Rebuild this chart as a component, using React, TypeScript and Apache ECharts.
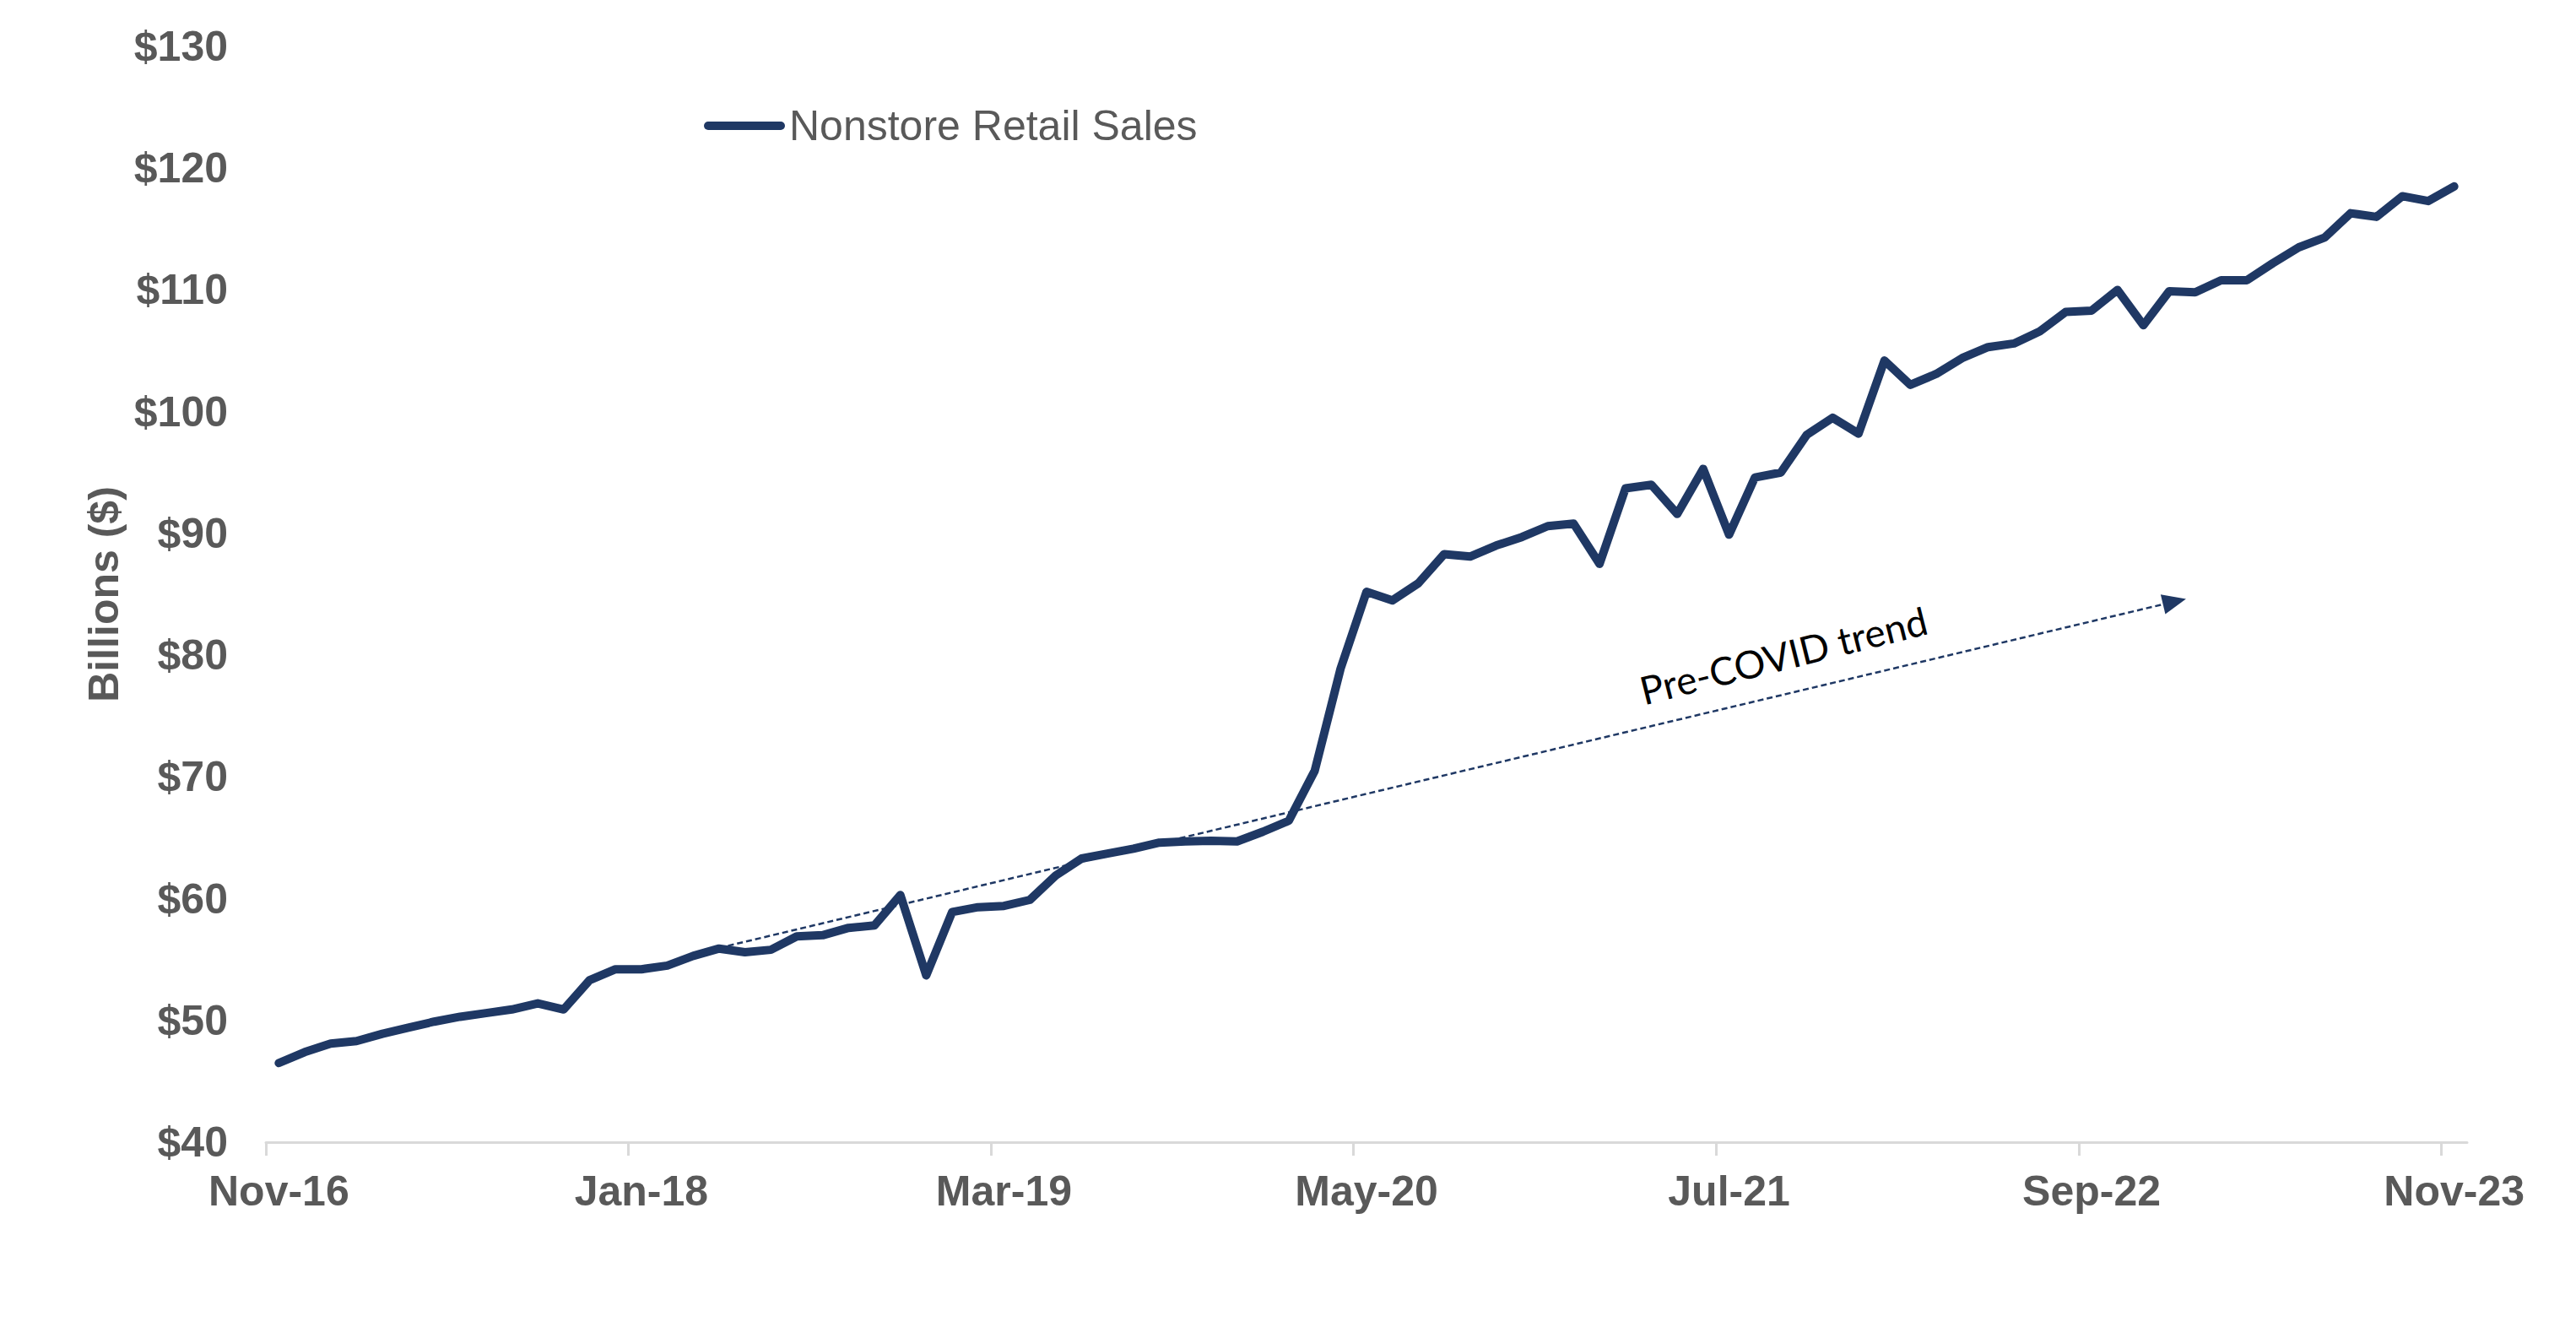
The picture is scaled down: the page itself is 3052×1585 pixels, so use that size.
import React, { useEffect, useRef } from "react";
import * as echarts from "echarts";

// Monthly categories, Nov-16 .. Nov-23
const MONTHS: string[] = [
  "Nov-16", "Dec-16",
  "Jan-17", "Feb-17", "Mar-17", "Apr-17", "May-17", "Jun-17", "Jul-17", "Aug-17", "Sep-17", "Oct-17", "Nov-17", "Dec-17",
  "Jan-18", "Feb-18", "Mar-18", "Apr-18", "May-18", "Jun-18", "Jul-18", "Aug-18", "Sep-18", "Oct-18", "Nov-18", "Dec-18",
  "Jan-19", "Feb-19", "Mar-19", "Apr-19", "May-19", "Jun-19", "Jul-19", "Aug-19", "Sep-19", "Oct-19", "Nov-19", "Dec-19",
  "Jan-20", "Feb-20", "Mar-20", "Apr-20", "May-20", "Jun-20", "Jul-20", "Aug-20", "Sep-20", "Oct-20", "Nov-20", "Dec-20",
  "Jan-21", "Feb-21", "Mar-21", "Apr-21", "May-21", "Jun-21", "Jul-21", "Aug-21", "Sep-21", "Oct-21", "Nov-21", "Dec-21",
  "Jan-22", "Feb-22", "Mar-22", "Apr-22", "May-22", "Jun-22", "Jul-22", "Aug-22", "Sep-22", "Oct-22", "Nov-22", "Dec-22",
  "Jan-23", "Feb-23", "Mar-23", "Apr-23", "May-23", "Jun-23", "Jul-23", "Aug-23", "Sep-23", "Oct-23", "Nov-23",
];

// Nonstore retail sales, billions of dollars
const SALES: number[] = [
  46.5, 47.4, 48.1, 48.3, 48.9, 49.4, 49.9, 50.3, 50.6, 50.9, 51.4, 50.9,
  53.3, 54.2, 54.2, 54.5, 55.3, 55.9, 55.6, 55.8, 56.9, 57.0, 57.6, 57.8,
  60.3, 53.7, 58.9, 59.3, 59.4, 59.9, 61.9, 63.3, 63.7, 64.1, 64.6, 64.7,
  64.75, 64.7, 65.5, 66.4, 70.5, 78.9, 85.2, 84.5, 85.9, 88.3, 88.1, 89.0,
  89.7, 90.6, 90.8, 87.5, 93.7, 94.0, 91.6, 95.3, 89.9, 94.6, 95.0, 98.1,
  99.5, 98.2, 104.2, 102.2, 103.1, 104.4, 105.3, 105.6, 106.6, 108.2, 108.3, 110.0,
  107.1, 109.9, 109.8, 110.8, 110.8, 112.2, 113.5, 114.3, 116.3, 116.0, 117.7, 117.3, 118.5,
];

const SERIES_NAME = "Nonstore Retail Sales";
const Y_MIN = 40;
const Y_MAX = 130;
const Y_STEP = 10;
const LABEL_EVERY = 14; // a label/tick every 14 months
const TICK_POSITIONS: number[] = [0, 14, 28, 42, 56, 70, 84]; // month-band boundaries
const MONTH_SPAN = 85;

// Pre-COVID trend annotation, in (month position, $bn)
const TREND_START: number[] = [16.8, 55.6];
const TREND_END: number[] = [73.7, 84.4];
const TREND_LABEL_AT: number[] = [58.6, 80.0];
const TREND_TEXT = "Pre-COVID trend";

const NAVY = "#1f3864";
const GREY = "#595959";
const AXIS_GREY = "#d9d9d9";
const FONT = '"Liberation Sans", Arial, sans-serif';
const LEGEND_ICON = "path://M5,0 H91 A5,5 0 0 1 91,10 H5 A5,5 0 0 1 5,0 Z";

export default function App() {
  const ref = useRef<HTMLDivElement>(null);

  useEffect(() => {
    if (!ref.current) return;
    const chart = echarts.init(ref.current, undefined, { renderer: "svg" });

    const option: any = {
      animation: false,
      backgroundColor: "#ffffff",
      grid: {
        left: 315,
        right: 129,
        top: 55,
        bottom: 232,
        containLabel: false,
        outerBoundsMode: "none",
      },
      legend: {
        data: [{ name: SERIES_NAME, icon: LEGEND_ICON }],
        left: 834,
        top: 124,
        padding: 0,
        itemWidth: 96,
        itemHeight: 10,
        selectedMode: false,
        itemStyle: { color: NAVY, borderWidth: 0 },
        textStyle: {
          fontFamily: FONT,
          fontSize: 50,
          lineHeight: 50,
          color: GREY,
        },
      },
      xAxis: [
        {
          type: "category",
          data: MONTHS,
          boundaryGap: true,
          position: "bottom",
          axisLine: { show: true, onZero: false, lineStyle: { color: AXIS_GREY, width: 3 } },
          axisTick: { show: false },
          splitLine: { show: false },
          axisLabel: {
            interval: LABEL_EVERY - 1,
            margin: 33,
            fontFamily: FONT,
            fontSize: 50,
            fontWeight: "bold",
            color: GREY,
            hideOverlap: false,
          },
        },
        {
          type: "value",
          min: 0,
          max: MONTH_SPAN,
          position: "bottom",
          axisLine: { show: false, onZero: false },
          axisTick: {
            show: true,
            customValues: TICK_POSITIONS,
            length: 16,
            lineStyle: { color: AXIS_GREY, width: 3 },
          },
          axisLabel: { show: false },
          splitLine: { show: false },
        },
      ],
      yAxis: {
        type: "value",
        min: Y_MIN,
        max: Y_MAX,
        interval: Y_STEP,
        name: "Billions ($)",
        nameLocation: "middle",
        nameGap: 164,
        nameTextStyle: {
          fontFamily: FONT,
          fontSize: 50,
          fontWeight: "bold",
          color: GREY,
        },
        axisLine: { show: false },
        axisTick: { show: false },
        splitLine: { show: false },
        axisLabel: {
          margin: 45,
          fontFamily: FONT,
          fontSize: 50,
          fontWeight: "bold",
          color: GREY,
          formatter: (v: number) => "$" + v,
        },
      },
      series: [
        {
          name: SERIES_NAME,
          type: "line",
          xAxisIndex: 0,
          yAxisIndex: 0,
          data: SALES,
          showSymbol: false,
          symbol: "none",
          lineStyle: { color: NAVY, width: 10, cap: "round", join: "round" },
          itemStyle: { color: NAVY },
          emphasis: { disabled: true },
          z: 3,
        },
        {
          name: "trend",
          type: "line",
          xAxisIndex: 1,
          yAxisIndex: 0,
          data: [],
          showSymbol: false,
          markLine: {
            silent: true,
            animation: false,
            symbol: ["none", "triangle"],
            symbolSize: [24, 28],
            label: { show: false },
            emphasis: { disabled: true },
            lineStyle: { color: NAVY, width: 2.5, type: [7, 4] },
            itemStyle: { color: NAVY },
            data: [[{ coord: TREND_START }, { coord: TREND_END }]],
          },
          z: 2,
        },
      ],
    };

    chart.setOption(option);

    const p0 = chart.convertToPixel({ xAxisIndex: 1, yAxisIndex: 0 } as any, TREND_START) as number[];
    const p1 = chart.convertToPixel({ xAxisIndex: 1, yAxisIndex: 0 } as any, TREND_END) as number[];
    const pl = chart.convertToPixel({ xAxisIndex: 1, yAxisIndex: 0 } as any, TREND_LABEL_AT) as number[];
    const angle = Math.atan2(p0[1] - p1[1], p1[0] - p0[0]);

    chart.setOption({
      graphic: [
        {
          type: "text",
          x: pl[0],
          y: pl[1],
          rotation: angle * 1.05,
          silent: true,
          style: {
            text: TREND_TEXT,
            fontFamily: "Lato, 'Open Sans', sans-serif",
            fontSize: 46,
            fill: "#000000",
            align: "center",
            verticalAlign: "middle",
          },
        },
      ],
    });

    return () => {
      chart.dispose();
    };
  }, []);

  return (
    <div
      ref={ref}
      style={{ position: "fixed", left: 0, top: 0, width: 3052, height: 1585, background: "#fff" }}
    />
  );
}
